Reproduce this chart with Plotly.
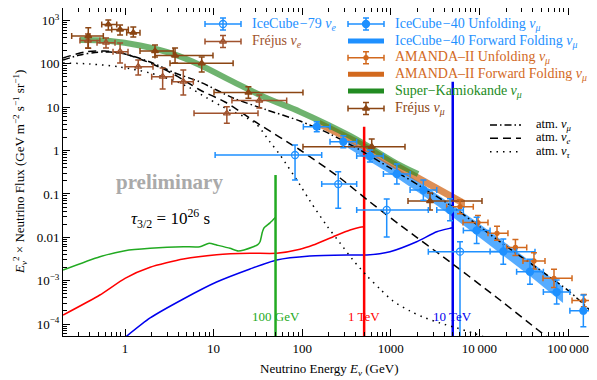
import math
import plotly.graph_objects as go

SERIF = "Liberation Serif, DejaVu Serif, serif"

# ---------------- data ----------------
# IceCube-40 unfolding nu_mu
ic40_E = [146, 291, 582, 1170, 2330, 4660, 9310, 18600, 37200, 74500, 149000]
ic40_Elo = [103, 206, 412, 825, 1650, 3300, 6590, 13200, 26300, 52700, 105000]
ic40_Ehi = [206, 412, 825, 1650, 3300, 6590, 13200, 26300, 52700, 105000, 210000]
ic40_F = [3.56, 1.60, 0.75, 0.288, 0.123, 0.0427, 0.0144, 0.0047, 0.00161, 0.000547, 0.000203]
ic40_Flo = [2.73, 1.16, 0.545, 0.17, 0.072, 0.024, 0.0072, 0.0024, 0.00083, 0.00029, 0.000087]
ic40_Fhi = [4.64, 2.20, 1.03, 0.49, 0.21, 0.077, 0.029, 0.0091, 0.0031, 0.00104, 0.00047]

# IceCube-79 nu_e
ic79_E = [83, 255, 899, 6040]
ic79_Elo = [10.4, 166, 412, 2650]
ic79_Ehi = [166, 412, 2650, 42400]
ic79_F = [0.79, 0.169, 0.0427, 0.00466]
ic79_Flo = [0.21, 0.047, 0.0102, 1e-6]
ic79_Fhi = [1.35, 0.326, 0.076, 0.0079]

# AMANDA-II unfolding nu_mu
am_E = [6040, 9640, 15800, 25500, 41300, 69500, 151000]
am_Elo = [4270, 6530, 12500, 20300, 31000, 52200, 111000]
am_Ehi = [8530, 12500, 21000, 34200, 55000, 111000, 212000]
am_F = [0.0508, 0.0219, 0.01236, 0.00582, 0.00284, 0.00113, 0.000348]
am_Flo = [0.035, 0.0151, 0.0085, 0.0038, 0.00185, 0.00070, 0.00025]
am_Fhi = [0.073, 0.0317, 0.018, 0.0089, 0.0044, 0.00183, 0.00048]

# IceCube-40 forward folding band
icff_E = [329, 660, 1270, 2440, 4660, 8870, 17100, 37200, 87900]
icff_lo = [1.15, 0.477, 0.21, 0.0851, 0.0327, 0.0122, 0.00434, 0.00128, 3.05e-4]
icff_hi = [1.75, 0.772, 0.356, 0.152, 0.0619, 0.0244, 0.00912, 0.00284, 7.14e-4]

# AMANDA-II forward folding band
amff_E = [159, 449, 1270, 6870]
amff_lo = [3.32, 1.15, 0.32, 0.0474]
amff_hi = [5.07, 1.75, 0.49, 0.0724]

# Super-Kamiokande nu_mu
sk_E = [0.31, 0.68, 1.48, 3.48, 7.0, 16.5, 40, 94, 347, 1260, 2030]
sk_F = [355, 337, 265, 169, 94, 38.8, 16.1, 7.9, 2.17, 0.46, 0.288]

# Frejus nu_mu
frm_E = [0.385, 0.648, 0.879, 1.24, 2.18, 3.67, 7.34, 24.7, 609, 2770]
frm_Elo = [0.25, 0.546, 0.708, 1.045, 1.476, 2.18, 3.22, 10.1, 102, 1563]
frm_Ehi = [0.569, 0.806, 1.09, 1.476, 3.51, 9.84, 16.6, 102, 1446, 10700]
frm_F = [439, 810, 620, 523, 198, 156, 103, 21.8, 1.23, 0.0687]
frm_Flo = [229, 604, 463, 416, 144, 105, 65, 16.1, 0.93, 0.0427]
frm_Fhi = [682, 1027, 787, 708, 272, 232, 144, 29.7, 1.85, 0.105]

# Frejus nu_e
fre_E = [0.382, 0.61, 0.879, 1.41, 2.66, 4.55, 14.1, 32.8]
fre_Elo = [0.31, 0.483, 0.732, 1.0, 2.0, 3.37, 6.01, 16.1]
fre_Ehi = [0.52, 0.771, 1.081, 2.07, 3.51, 5.90, 31.7, 66.8]
fre_F = [346, 308, 191, 86, 50.6, 38.8, 7.24, 14.3]
fre_Flo = [232, 232, 105, 55, 26.3, 19.1, 4.26, 9.6]
fre_Fhi = [488, 395, 303, 123, 80, 72, 10.3, 19.1]

# atmospheric models
atm_mu_E = [0.2, 0.31, 0.46, 0.68, 1.0, 1.92, 3.67, 7.02, 16.6, 40.1, 94.5, 206, 449, 979,
            2136, 4658, 10160, 22150, 48310, 105300, 207000]
atm_mu_F = [122.7, 160.1, 182.8, 187.7, 168.8, 110.4, 61.5, 38.2, 16.3, 8.63, 4.81, 2.41, 1.03,
            0.397, 0.152, 0.0556, 0.0173, 0.00537, 0.00176, 5.48e-4, 1.53e-4]
atm_e_E = [0.2, 0.354, 0.595, 1.0, 1.92, 3.67, 7.02, 13.45, 30.9, 94.5, 267, 582, 1270, 4658,
           17080, 45850, 81230]
atm_e_F = [136.5, 187.7, 198, 168.8, 104.7, 55.4, 24.95, 13.19, 4.33, 1.031, 0.2332, 0.0652,
           0.01922, 0.002693, 3.58e-4, 7.28e-5, 2.95e-5]
atm_tau_E = [0.2, 0.403, 0.878, 1.92, 3.67, 5.42, 8.43, 12.8, 29.3, 43.3, 56.2, 94.5, 122.5,
             190.5, 267, 374.5, 539, 755, 1059, 1647, 2309, 3592, 5588, 8470, 13170]
atm_tau_F = [104.7, 99.3, 84.6, 61.5, 40.2, 27.8, 16.32, 10.12, 4.33, 1.577, 0.791, 0.1608,
             0.0688, 0.01822, 0.00739, 0.002996, 0.001281, 6.42e-4, 3.40e-4, 2.00e-4, 1.45e-4,
             1.055e-4, 8.1e-5, 6.21e-5, 4.51e-5]

# gravitino decay signals (tau_3/2 = 1e26 s)
g100_E = [0.2, 0.52, 1.0, 1.92, 4.55, 7.0, 8.9, 10.8, 15.3, 19.0, 28.1, 31.5, 33.4, 35.5, 37,
          43.3, 50]
g100_F = [1.76e-3, 3.57e-3, 4.91e-3, 5.57e-3, 6.07e-3, 6.07e-3, 7.27e-3, 6.63e-3, 5.57e-3,
          4.83e-3, 6.07e-3, 6.8e-3, 7.9e-3, 0.0132, 0.0164, 0.0215, 0.0289]
g1000_E = [0.2, 0.52, 1.0, 1.92, 4.55, 10.8, 25.8, 51.5, 94.4, 133, 224, 347, 449, 500]
g1000_F = [1.61e-4, 4.67e-4, 1.133e-3, 2.033e-3, 3.16e-3, 3.97e-3, 4.28e-3, 4.28e-3, 5.29e-3,
           6.64e-3, 0.01032, 0.01474, 0.0170, 0.01755]
g10000_E = [0.95, 1.92, 4.55, 10.8, 25.8, 51.5, 122, 318, 535, 979, 1960, 3300, 4658, 5000]
g10000_F = [4.5e-5, 1.38e-4, 3.78e-4, 9.3e-4, 1.86e-3, 3.0e-3, 3.71e-3, 3.91e-3, 3.91e-3,
            4.66e-3, 7.9e-3, 0.01346, 0.01614, 0.01663]
line_E = [50, 500, 5000]
line_top = [0.273, 3.56, 38.8]
line_labels = ["100 GeV", "1 TeV", "10 TeV"]

x_tickvals = [1, 10, 100, 1000, 10000, 100000]
x_ticktext = ["1", "10", "100", "1000", "10\u2009000", "100\u2009000"]
y_tickvals = [1e-4, 1e-3, 0.01, 0.1, 1, 10, 100, 1000]
y_ticktext = ["10<sup>\u22124</sup>", "10<sup>\u22123</sup>", "0.01", "0.1", "1", "10", "100",
              "10<sup>3</sup>"]

# ---------------- styles ----------------
C_IC = "#1E90FF"
C_AM = "#D2691E"
C_SK = "#228B22"
C_FM = "#8B4513"
C_FE = "#A0522D"
C_G = "#22AA22"
C_R = "#FF0000"
C_B = "#0000EE"
DASHDOT = "7px,3px,1.5px,3px"
DASHED = "8px,5px"
DOTTED = "1.5px,5px"

# page offset of the figure (browser body margin) and target plot area in page pixels
OFF = 8
W, H = 597 - OFF, 380 - OFF
PL, PR, PT, PB = 63, 596, 8, 336


def errs(v, lo, hi):
    return ([h - c for c, h in zip(v, hi)], [c - l for c, l in zip(v, lo)])


def px2paper(px, py):
    return (px - PL) / (PR - PL), (PB - py) / (PB - PT)


fig = go.Figure()

# bands
fig.add_trace(go.Scatter(x=icff_E + icff_E[::-1], y=icff_hi + icff_lo[::-1], fill="toself",
                         fillcolor="rgba(30,144,255,0.75)", line=dict(width=0), mode="lines",
                         showlegend=False, hoverinfo="skip"))
fig.add_trace(go.Scatter(x=amff_E + amff_E[::-1], y=amff_hi + amff_lo[::-1], fill="toself",
                         fillcolor="rgba(210,105,30,0.75)", line=dict(width=0), mode="lines",
                         showlegend=False, hoverinfo="skip"))
fig.add_trace(go.Scatter(x=sk_E, y=sk_F, mode="lines",
                         line=dict(color="rgba(34,139,34,0.65)", width=6, shape="spline"),
                         showlegend=False))

# signal curves
for E, F, c in [(g100_E, g100_F, C_G), (g1000_E, g1000_F, C_R), (g10000_E, g10000_F, C_B)]:
    fig.add_trace(go.Scatter(x=E, y=F, mode="lines",
                             line=dict(color=c, width=1.5, shape="spline", smoothing=0.6),
                             showlegend=False))
for e, top, c in zip(line_E, line_top, [C_G, C_R, C_B]):
    fig.add_trace(go.Scatter(x=[e, e], y=[1e-6, top], mode="lines", line=dict(color=c, width=2.5),
                             showlegend=False))

# atmospheric curves
for E, F, d in [(atm_mu_E, atm_mu_F, DASHDOT), (atm_e_E, atm_e_F, DASHED),
                (atm_tau_E, atm_tau_F, DOTTED)]:
    fig.add_trace(go.Scatter(x=E, y=F, mode="lines",
                             line=dict(color="black", width=1.5, dash=d, shape="spline",
                                       smoothing=0.8),
                             showlegend=False))


def data_trace(E, Elo, Ehi, F, Flo, Fhi, color, symbol, size):
    ex = errs(E, Elo, Ehi)
    ey = errs(F, Flo, Fhi)
    return go.Scatter(
        x=E, y=F, mode="markers",
        marker=dict(color=color, symbol=symbol, size=size, line=dict(color=color, width=1.3)),
        error_x=dict(type="data", array=ex[0], arrayminus=ex[1], color=color, thickness=1.5,
                     width=3),
        error_y=dict(type="data", array=ey[0], arrayminus=ey[1], color=color, thickness=1.5,
                     width=3),
        showlegend=False)


fig.add_trace(data_trace(fre_E, fre_Elo, fre_Ehi, fre_F, fre_Flo, fre_Fhi, C_FE,
                         "triangle-up-open", 6))
fig.add_trace(data_trace(frm_E, frm_Elo, frm_Ehi, frm_F, frm_Flo, frm_Fhi, C_FM,
                         "triangle-up", 6))
fig.add_trace(data_trace(ic79_E, ic79_Elo, ic79_Ehi, ic79_F, ic79_Flo, ic79_Fhi, C_IC,
                         "circle-open", 7))
fig.add_trace(data_trace(am_E, am_Elo, am_Ehi, am_F, am_Flo, am_Fhi, C_AM, "circle", 4))
fig.add_trace(data_trace(ic40_E, ic40_Elo, ic40_Ehi, ic40_F, ic40_Flo, ic40_Fhi, C_IC,
                         "circle", 7))

# ---------------- legend (overlay pixel axes) ----------------
legend_rows = [
    (223, 24, "err", C_IC, "circle-open", "IceCube\u200a\u221279 <i>\u03bd<sub>e</sub></i>"),
    (223, 41.5, "err", C_FE, "triangle-up-open", "Fr\u00e9jus <i>\u03bd<sub>e</sub></i>"),
    (366, 24, "err", C_IC, "circle",
     "IceCube\u200a\u221240 Unfolding <i>\u03bd<sub>\u03bc</sub></i>"),
    (366, 41, "bar", C_IC, None,
     "IceCube\u200a\u221240 Forward Folding <i>\u03bd<sub>\u03bc</sub></i>"),
    (366, 57.7, "err", C_AM, "circle", "AMANDA\u2013II Unfolding <i>\u03bd<sub>\u03bc</sub></i>"),
    (366, 74.3, "bar", C_AM, None,
     "AMANDA\u2013II Forward Folding <i>\u03bd<sub>\u03bc</sub></i>"),
    (366, 91, "bar", C_SK, None, "Super\u2212Kamiokande <i>\u03bd<sub>\u03bc</sub></i>"),
    (366, 108.5, "err", C_FM, "triangle-up", "Fr\u00e9jus <i>\u03bd<sub>\u03bc</sub></i>"),
]
annotations = []
for xs, yv, kind, c, sym, txt in legend_rows:
    if kind == "err":
        sz = 4 if c == C_AM else (6 if "triangle" in sym else 7)
        fig.add_trace(go.Scatter(
            x=[xs], y=[yv], xaxis="x2", yaxis="y2", mode="markers",
            marker=dict(color=c, symbol=sym, size=sz, line=dict(color=c, width=1.3)),
            error_x=dict(type="constant", value=18, color=c, thickness=1.5, width=3),
            error_y=dict(type="constant", value=6, color=c, thickness=1.5, width=3),
            showlegend=False, hoverinfo="skip"))
    else:
        fig.add_trace(go.Scatter(x=[xs - 18, xs + 18], y=[yv, yv], xaxis="x2", yaxis="y2",
                                 mode="lines", line=dict(color=c, width=5), showlegend=False,
                                 hoverinfo="skip"))
    annotations.append(dict(x=xs + 27, y=yv, xref="x2", yref="y2", text=txt, showarrow=False,
                            xanchor="left", yanchor="middle",
                            font=dict(family=SERIF, size=14, color=c)))

for yv, d, txt in [(125, DASHDOT, "atm. <i>\u03bd<sub>\u03bc</sub></i>"),
                   (138.3, DASHED, "atm. <i>\u03bd<sub>e</sub></i>"),
                   (151.7, DOTTED, "atm. <i>\u03bd<sub>\u03c4</sub></i>")]:
    fig.add_trace(go.Scatter(x=[490, 521], y=[yv, yv], xaxis="x2", yaxis="y2", mode="lines",
                             line=dict(color="black", width=1.5, dash=d), showlegend=False,
                             hoverinfo="skip"))
    annotations.append(dict(x=534, y=yv, xref="x2", yref="y2", text=txt, showarrow=False,
                            xanchor="left", yanchor="middle",
                            font=dict(family=SERIF, size=12.5, color="black")))

for e, lab, c in zip(line_E, line_labels, [C_G, C_R, C_B]):
    annotations.append(dict(x=math.log10(e), y=316, xref="x", yref="y2", text=lab,
                            showarrow=False, xanchor="center", yanchor="middle",
                            font=dict(family=SERIF, size=13, color=c)))

annotations.append(dict(x=169, y=182, xref="x2", yref="y2", text="<b>preliminary</b>",
                        showarrow=False, font=dict(family=SERIF, size=21, color="#AAAAAA")))
annotations.append(dict(x=170, y=218, xref="x2", yref="y2",
                        text="<i>\u03c4</i><sub>3/2</sub> = 10<sup>26</sup> s",
                        showarrow=False, font=dict(family=SERIF, size=17, color="black")))

# axis titles (paper coordinates so they may sit outside the plot area)
tx, ty = px2paper((PL + PR) / 2, 369)
annotations.append(dict(x=tx, y=ty, xref="paper", yref="paper",
                        text="Neutrino Energy <i>E<sub>\u03bd</sub></i> (GeV)", showarrow=False,
                        xanchor="center", yanchor="middle",
                        font=dict(family=SERIF, size=13, color="black")))
tx, ty = px2paper(20, (PT + PB) / 2)
annotations.append(dict(x=tx, y=ty, xref="paper", yref="paper", textangle=-90,
                        text="<i>E<sub>\u03bd</sub></i><sup>2</sup> \u00d7 Neutrino Flux "
                             "(GeV m<sup>\u22122</sup> s<sup>\u22121</sup> sr<sup>\u22121</sup>)",
                        showarrow=False, xanchor="center", yanchor="middle",
                        font=dict(family=SERIF, size=13, color="black")))

minor_x = [k * 10 ** d for d in range(-1, 6) for k in range(2, 10)]
minor_y = [k * 10 ** d for d in range(-5, 4) for k in range(2, 10)]

axis_common = dict(showline=True, linecolor="black", linewidth=1, mirror="allticks",
                   ticks="inside", ticklen=7, tickwidth=1, tickcolor="black", showgrid=False,
                   zeroline=False, automargin=False,
                   tickfont=dict(family=SERIF, size=13, color="black"))

fig.update_layout(
    template="none",
    width=W, height=H,
    margin=dict(l=PL - OFF, r=W - (PR - OFF), t=PT - OFF, b=H - (PB - OFF), pad=0,
                autoexpand=False),
    paper_bgcolor="white", plot_bgcolor="white",
    showlegend=False,
    xaxis=dict(type="log", range=[-0.70, 5.316], tickmode="array", tickvals=x_tickvals,
               ticktext=x_ticktext,
               minor=dict(tickmode="array", tickvals=minor_x, ticks="inside", ticklen=4,
                          tickcolor="black", showgrid=False),
               **axis_common),
    yaxis=dict(type="log", range=[-4.276, 3.288], tickmode="array", tickvals=y_tickvals,
               ticktext=y_ticktext,
               minor=dict(tickmode="array", tickvals=minor_y, ticks="inside", ticklen=4,
                          tickcolor="black", showgrid=False),
               **axis_common),
    xaxis2=dict(overlaying="x", range=[PL, PR], visible=False, fixedrange=True,
                automargin=False),
    yaxis2=dict(overlaying="y", range=[PB, PT], visible=False, fixedrange=True,
                automargin=False),
    annotations=annotations,
    font=dict(family=SERIF, size=13, color="black"),
)

fig.write_html("out.html")
